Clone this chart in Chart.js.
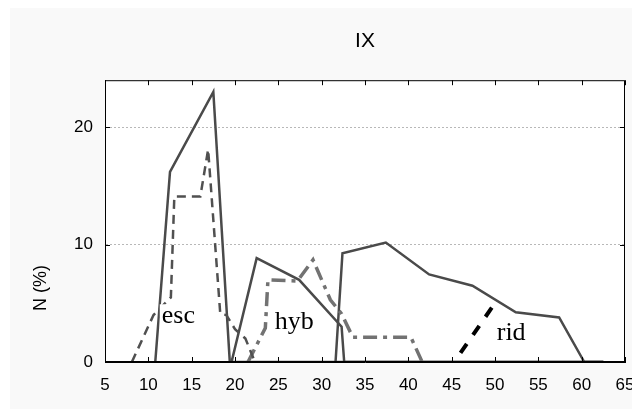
<!DOCTYPE html>
<html>
<head>
<meta charset="utf-8">
<title>IX</title>
<script src="https://cdn.jsdelivr.net/npm/chart.js@4.4.1/dist/chart.umd.min.js"></script>
<style>
  html, body { margin: 0; padding: 0; background: #fff; }
  #wrap { width: 632px; height: 409px; }
</style>
</head>
<body>
<div id="wrap"><canvas id="chart" width="632" height="409"></canvas></div>
<script>
/* ── Data ── */
const xTicks = [5, 10, 15, 20, 25, 30, 35, 40, 45, 50, 55, 60, 65];
const yTicks = [0, 10, 20];

const escSolidX = [10.8, 12.5, 17.5, 19.4, 62.5];
const escSolidY = [0, 16.2, 23.0, 0, 0];

const escDashX = [8.1, 10.6, 12.6, 13.0, 16.0, 16.9, 18.3, 19.0, 20.0, 21.2, 22.3];
const escDashY = [0, 4.0, 5.5, 14.1, 14.1, 18.1, 4.1, 4.0, 2.8, 2.0, 0];

const hybSolidX = [19.6, 22.5, 27.4, 32.3, 32.6, 62.5];
const hybSolidY = [0, 8.85, 7.0, 3.0, 0, 0];

const hybDashX = [21.5, 23.5, 23.8, 27.2, 29.0, 31.0, 32.3, 33.6, 40.3, 41.6];
const hybDashY = [0, 2.9, 7.0, 6.9, 8.7, 5.3, 4.1, 2.1, 2.1, 0];

const ridSolidX = [31.6, 32.4, 37.4, 42.4, 47.4, 52.4, 57.4, 60.3, 62.5];
const ridSolidY = [0, 9.26, 10.17, 7.46, 6.5, 4.24, 3.79, 0, 0];

const ridDashX = [45.3, 49.7];
const ridDashY = [0, 4.7];

const labelText = ['esc', 'hyb', 'rid'];
const labelX    = [11.55, 24.6, 50.2];
const labelY    = [3.3, 2.8, 1.85];

function pts(xs, ys) {
  return xs.map((x, i) => ({ x: x, y: ys[i] }));
}

/* ── Plugins ── */
const backdrop = {
  id: 'backdrop',
  beforeDraw(chart) {
    const { ctx, chartArea: a } = chart;
    ctx.save();
    ctx.fillStyle = '#fff';
    ctx.fillRect(0, 0, chart.width, chart.height);
    ctx.fillStyle = '#f9f9f9';
    ctx.fillRect(10, 8, chart.width - 10, chart.height - 8);
    ctx.fillStyle = '#fff';
    ctx.fillRect(a.left, a.top, a.right - a.left, a.bottom - a.top);
    ctx.restore();
  }
};

const frame = {
  id: 'frame',
  afterDraw(chart) {
    const { ctx, chartArea: a, scales: { x, y } } = chart;
    ctx.save();
    ctx.strokeStyle = '#000';
    ctx.lineWidth = 1;
    ctx.strokeRect(a.left + 0.5, a.top + 0.5, a.right - a.left - 1, a.bottom - a.top - 1);

    // inward ticks
    ctx.beginPath();
    xTicks.forEach(v => {
      const px = Math.round(x.getPixelForValue(v)) + 0.5;
      ctx.moveTo(px, a.bottom); ctx.lineTo(px, a.bottom - 5);
      ctx.moveTo(px, a.top);    ctx.lineTo(px, a.top + 5);
    });
    yTicks.forEach(v => {
      const py = Math.round(y.getPixelForValue(v)) + 0.5;
      ctx.moveTo(a.left, py);  ctx.lineTo(a.left + 5, py);
      ctx.moveTo(a.right, py); ctx.lineTo(a.right - 5, py);
    });
    ctx.stroke();

    // y axis title
    ctx.fillStyle = '#000';
    ctx.font = '18px "Liberation Sans", Arial, sans-serif';
    ctx.textAlign = 'center';
    ctx.textBaseline = 'middle';
    ctx.translate(41, 288);
    ctx.rotate(-Math.PI / 2);
    ctx.fillText('N (%)', 0, 0);
    ctx.restore();
  }
};

const tags = {
  id: 'tags',
  afterDatasetsDraw(chart) {
    const { ctx, scales: { x, y } } = chart;
    ctx.save();
    ctx.font = '26px "Liberation Serif", "Times New Roman", serif';
    ctx.textBaseline = 'alphabetic';
    ctx.textAlign = 'left';
    labelText.forEach((t, i) => {
      const px = x.getPixelForValue(labelX[i]);
      const py = y.getPixelForValue(labelY[i]);
      const w = ctx.measureText(t).width;
      ctx.fillStyle = '#fff';
      ctx.fillRect(px - 2, py - 19, w + 4, 24);
      ctx.fillStyle = '#000';
      ctx.fillText(t, px, py);
    });
    ctx.restore();
  }
};

/* ── Chart ── */
const tickFont = { family: '"Liberation Sans", Arial, sans-serif', size: 17 };

new Chart(document.getElementById('chart'), {
  type: 'line',
  data: {
    datasets: [
      { data: pts(ridDashX, ridDashY), borderColor: '#000', borderWidth: 4, borderDash: [11, 11], borderDashOffset: 11 },
      { data: pts(escDashX, escDashY), borderColor: '#505050', borderWidth: 2.5, borderDash: [9, 6] },
      { data: pts(hybDashX, hybDashY), borderColor: '#727272', borderWidth: 3.5, borderDash: [14, 6, 4, 6] },
      { data: pts(escSolidX, escSolidY), borderColor: '#4a4a4a', borderWidth: 2.5 },
      { data: pts(hybSolidX, hybSolidY), borderColor: '#4a4a4a', borderWidth: 2.5 },
      { data: pts(ridSolidX, ridSolidY), borderColor: '#4a4a4a', borderWidth: 2.5 },
    ]
  },
  options: {
    responsive: false,
    animation: false,
    devicePixelRatio: 1,
    datasets: { line: { pointRadius: 0, tension: 0, fill: false } },
    layout: { padding: { top: 0, right: 7, bottom: 0, left: 0 } },
    plugins: {
      legend: { display: false },
      tooltip: { enabled: false },
      title: {
        display: true,
        text: 'IX',
        fullSize: false,
        color: '#000',
        font: { family: '"Liberation Sans", Arial, sans-serif', size: 21, weight: 'normal' },
        padding: { top: 29, bottom: 26 }
      }
    },
    scales: {
      x: {
        type: 'linear',
        min: 5,
        max: 65,
        afterBuildTicks: s => { s.ticks = xTicks.map(v => ({ value: v })); },
        afterFit: s => { s.height = 47; s.paddingLeft = 0; s.paddingRight = 0; },
        grid: { display: false, drawTicks: false },
        border: { display: true, color: '#000', width: 1 },
        ticks: { color: '#000', font: tickFont, padding: 13, maxRotation: 0, autoSkip: false }
      },
      y: {
        min: 0,
        max: 24,
        afterBuildTicks: s => { s.ticks = yTicks.map(v => ({ value: v })); },
        afterFit: s => { s.width = 105; s.paddingTop = 0; s.paddingBottom = 0; },
        grid: {
          drawTicks: false,
          color: c => (c.tick && c.tick.value === 0) ? 'rgba(0,0,0,0)' : '#b8b8b8',
          lineWidth: 1
        },
        border: { display: true, color: '#000', width: 1, dash: [2, 2] },
        ticks: { color: '#000', font: tickFont, padding: 12 }
      }
    }
  },
  plugins: [backdrop, tags, frame]
});
</script>
</body>
</html>
